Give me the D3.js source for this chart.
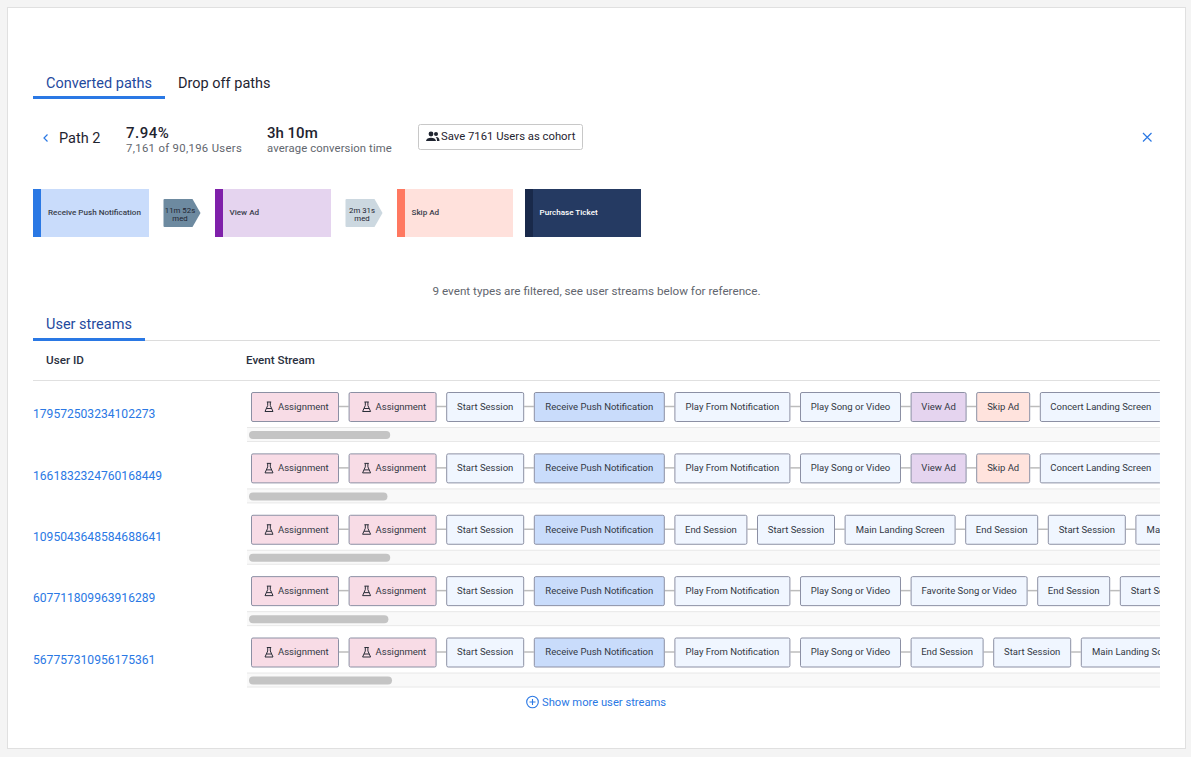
<!DOCTYPE html>
<html>
<head>
<meta charset="utf-8">
<script src="https://cdn.jsdelivr.net/npm/d3@7"></script>
<style>
  html, body { margin: 0; padding: 0; background: #f4f4f4; overflow: hidden; }
  text { font-family: "Roboto", "Noto Sans", sans-serif; }
</style>
</head>
<body>
<svg id="chart"></svg>
<script>
// values
const pathSteps = ["Receive Push Notification", "View Ad", "Skip Ad", "Purchase Ticket"];
const pathTimes = ["11m 52s", "2m 31s"];
const userIds = ["179572503234102273", "1661832324760168449", "1095043648584688641", "607711809963916289", "567757310956175361"];
const scrollShares = [0.155, 0.152, 0.155, 0.153, 0.157];

const commonStart = ["Assignment", "Assignment", "Start Session", "Receive Push Notification"];
const stream1 = commonStart.concat(["Play From Notification", "Play Song or Video", "View Ad", "Skip Ad", "Concert Landing Screen"]);
const stream2 = stream1.slice();
const stream3 = commonStart.concat(["End Session", "Start Session", "Main Landing Screen", "End Session", "Start Session", "Main Landing Screen"]);
const stream4 = commonStart.concat(["Play From Notification", "Play Song or Video", "Favorite Song or Video", "End Session", "Start Session"]);
const stream5 = commonStart.concat(["Play From Notification", "Play Song or Video", "End Session", "Start Session", "Main Landing Screen"]);
const streams = [stream1, stream2, stream3, stream4, stream5];

// box styling per event type
const boxWidth = {
  "Assignment": 88, "Start Session": 78, "Receive Push Notification": 131,
  "Play From Notification": 116, "Play Song or Video": 101, "View Ad": 56,
  "Skip Ad": 54, "Concert Landing Screen": 122, "End Session": 73,
  "Main Landing Screen": 111, "Favorite Song or Video": 117
};
const boxFill = { "Assignment": "#f8dce6", "Receive Push Notification": "#c9dcfb", "View Ad": "#e5d4ef", "Skip Ad": "#ffe3dd" };
const stepStyle = [
  { strip: "#2a78e4", bg: "#c9dcfb", text: "#3a3f4c", x: 33 },
  { strip: "#7f20aa", bg: "#e5d4ef", text: "#3a3f4c", x: 215 },
  { strip: "#ff7860", bg: "#ffe1dc", text: "#3a3f4c", x: 397 },
  { strip: "#19294a", bg: "#253a62", text: "#ffffff", x: 525 }
];
const timeFill = ["#6d8aa0", "#ccd8e0"];

const blue = "#2a78e4", navy = "#1f4a9e", ink = "#1f2430", grey = "#62666e";

const svg = d3.select("#chart").attr("width", 1191).attr("height", 757);

svg.append("rect").attr("x", 7.5).attr("y", 7.5).attr("width", 1178).attr("height", 741)
  .attr("fill", "#fff").attr("stroke", "#e0e0e0");

function label(txt, x, y, size, color, weight, anchor) {
  return svg.append("text").attr("x", x).attr("y", y).attr("dy", "0.35em")
    .attr("font-size", size).attr("fill", color)
    .attr("font-weight", weight || 400).attr("text-anchor", anchor || "start").text(txt);
}

// tabs
label("Converted paths", 46, 83, 14.5, navy);
label("Drop off paths", 178, 83, 14.5, ink);
svg.append("rect").attr("x", 33).attr("y", 96).attr("width", 132).attr("height", 3).attr("fill", blue);

// summary line
svg.append("path").attr("d", "M47.5 134.5 L44 138 L47.5 141.5").attr("fill", "none").attr("stroke", blue).attr("stroke-width", 1.2);
label("Path 2", 59, 138, 14.5, ink);
label("7.94%", 126, 132.8, 15, ink, 500).attr("letter-spacing", 0.5);
label("7,161 of 90,196 Users", 126, 148.3, 11.3, grey).attr("letter-spacing", 0.33);
label("3h 10m", 267, 132.8, 15, ink, 500);
label("average conversion time", 267, 148.3, 11.3, grey).attr("letter-spacing", 0.1);

svg.append("rect").attr("x", 418.5).attr("y", 124.5).attr("width", 164).attr("height", 25).attr("rx", 2)
  .attr("fill", "#fff").attr("stroke", "#c8c8c8");
const people = svg.append("g").attr("fill", ink);
people.append("circle").attr("cx", 431).attr("cy", 134).attr("r", 2.4);
people.append("circle").attr("cx", 436).attr("cy", 134).attr("r", 2);
people.append("path").attr("d", "M426 141 C426 136.5 436 136.5 436 141 Z M437 141 C437 138.5 436.5 137.5 435.5 137 C438 136.6 439.5 138 439.5 141 Z");
label("Save 7161 Users as cohort", 441, 136, 11.3, ink);

svg.append("path").attr("d", "M1143 133 L1151.5 141.5 M1151.5 133 L1143 141.5").attr("stroke", blue).attr("stroke-width", 1.2);

// converted path
const step = svg.selectAll("g.step").data(pathSteps).join("g").attr("class", "step")
  .attr("transform", (d, i) => `translate(${stepStyle[i].x},189)`);
step.append("rect").attr("width", 116).attr("height", 48).attr("fill", (d, i) => stepStyle[i].bg);
step.append("rect").attr("width", 8).attr("height", 48).attr("fill", (d, i) => stepStyle[i].strip);
step.append("text").attr("x", (d, i) => i === 0 ? 15 : 14.5).attr("y", 23.5).attr("dy", "0.35em")
  .attr("font-size", 8.1).attr("font-weight", 500).attr("fill", (d, i) => stepStyle[i].text).text(d => d);

const times = svg.selectAll("g.time").data(pathTimes).join("g").attr("class", "time")
  .attr("transform", (d, i) => `translate(${stepStyle[i].x + 130.5},199)`);
times.append("path").attr("d", "M1 0 H29 L37 14 L29 28 H1 Q0 28 0 27 V1 Q0 0 1 0 Z").attr("fill", (d, i) => timeFill[i]);
times.append("text").attr("x", 16.5).attr("y", 11.3).attr("dy", "0.35em").attr("text-anchor", "middle")
  .attr("font-size", 7.8).attr("fill", ink).text(d => d);
times.append("text").attr("x", 16.5).attr("y", 19.7).attr("dy", "0.35em").attr("text-anchor", "middle")
  .attr("font-size", 7.8).attr("fill", ink).text("med");

label("9 event types are filtered, see user streams below for reference.", 596.5, 291, 11.7, grey, 400, "middle");

// user streams table
label("User streams", 46, 324, 14.5, navy);
svg.append("line").attr("x1", 33).attr("x2", 1160).attr("y1", 340.5).attr("y2", 340.5).attr("stroke", "#dcdcdc");
svg.append("rect").attr("x", 33).attr("y", 338).attr("width", 112).attr("height", 3).attr("fill", blue);
label("User ID", 46, 360, 11.7, "#2a3040", 500);
label("Event Stream", 246, 360, 11.6, "#2a3040", 500);
svg.append("line").attr("x1", 33).attr("x2", 1160).attr("y1", 380.5).attr("y2", 380.5).attr("stroke", "#e0e0e0");

svg.append("clipPath").attr("id", "streamClip").append("rect")
  .attr("x", 247).attr("y", 380).attr("width", 913).attr("height", 320);

const rowY = d3.scalePoint().domain(userIds).range([392, 637.5]);
const thumbX = d3.scaleLinear().domain([0, 1]).range([249, 1160]);
const gap = 9.6;

const rows = svg.selectAll("g.row").data(userIds).join("g").attr("class", "row")
  .attr("transform", d => `translate(0,${rowY(d)})`);

rows.append("text").attr("x", 33).attr("y", 22).attr("dy", "0.35em")
  .attr("font-size", 12.1).attr("fill", blue).text(d => d);

// scrollbar under each stream
rows.append("rect").attr("x", 247).attr("y", 35.5).attr("width", 913).attr("height", 14)
  .attr("fill", "#f9f9f9");
rows.append("line").attr("x1", 247).attr("x2", 1160).attr("y1", 35.5).attr("y2", 35.5).attr("stroke", "#e8e8e8");
rows.append("line").attr("x1", 247).attr("x2", 1160).attr("y1", 49.5).attr("y2", 49.5).attr("stroke", "#e8e8e8");
rows.append("rect").attr("x", thumbX(0)).attr("y", 39).attr("height", 8).attr("rx", 4)
  .attr("width", (d, i) => thumbX(scrollShares[i]) - thumbX(0)).attr("fill", "#c4c4c4");

const flask = "M-2.2 -5 H2.2 M-1.3 -5 V-1.5 L-4 4.5 H4 L1.3 -1.5 V-5 M-2.6 1.5 H2.6";

rows.each(function (id, r) {
  let x = 251;
  const boxes = streams[r].map(name => {
    const b = { name, x, w: boxWidth[name] };
    x += b.w + gap;
    return b;
  });
  const g = svg.append("g").attr("clip-path", "url(#streamClip)");
  g.selectAll("line").data(boxes.slice(1)).join("line")
    .attr("x1", d => d.x - gap).attr("x2", d => d.x)
    .attr("y1", rowY(id) + 14.5).attr("y2", rowY(id) + 14.5)
    .attr("stroke", "#bcbcbc").attr("stroke-width", 1.5);
  const box = g.selectAll("g").data(boxes).join("g")
    .attr("transform", d => `translate(${d.x},${rowY(id)})`);
  box.append("rect").attr("x", 0.5).attr("y", 0.5).attr("width", d => d.w - 1).attr("height", 29)
    .attr("rx", 1.5).attr("fill", d => boxFill[d.name] || "#f0f6ff").attr("stroke", "#8c90a4");
  box.append("text")
    .attr("x", d => d.name === "Assignment" ? 27 : d.w / 2)
    .attr("y", 14.5).attr("dy", "0.35em")
    .attr("text-anchor", d => d.name === "Assignment" ? "start" : "middle")
    .attr("font-size", 9.5).attr("fill", "#333844").text(d => d.name);
  box.filter(d => d.name === "Assignment").append("path")
    .attr("transform", "translate(18,15)").attr("d", flask)
    .attr("fill", "none").attr("stroke", "#2a2e38").attr("stroke-width", 1);
});

// footer link
const plus = svg.append("g").attr("transform", "translate(532.5,702)").attr("fill", "none").attr("stroke", blue).attr("stroke-width", 1.1);
plus.append("circle").attr("r", 5.8);
plus.append("path").attr("d", "M-3 0 H3 M0 -3 V3");
label("Show more user streams", 542, 702, 11.2, blue);
</script>
</body>
</html>
